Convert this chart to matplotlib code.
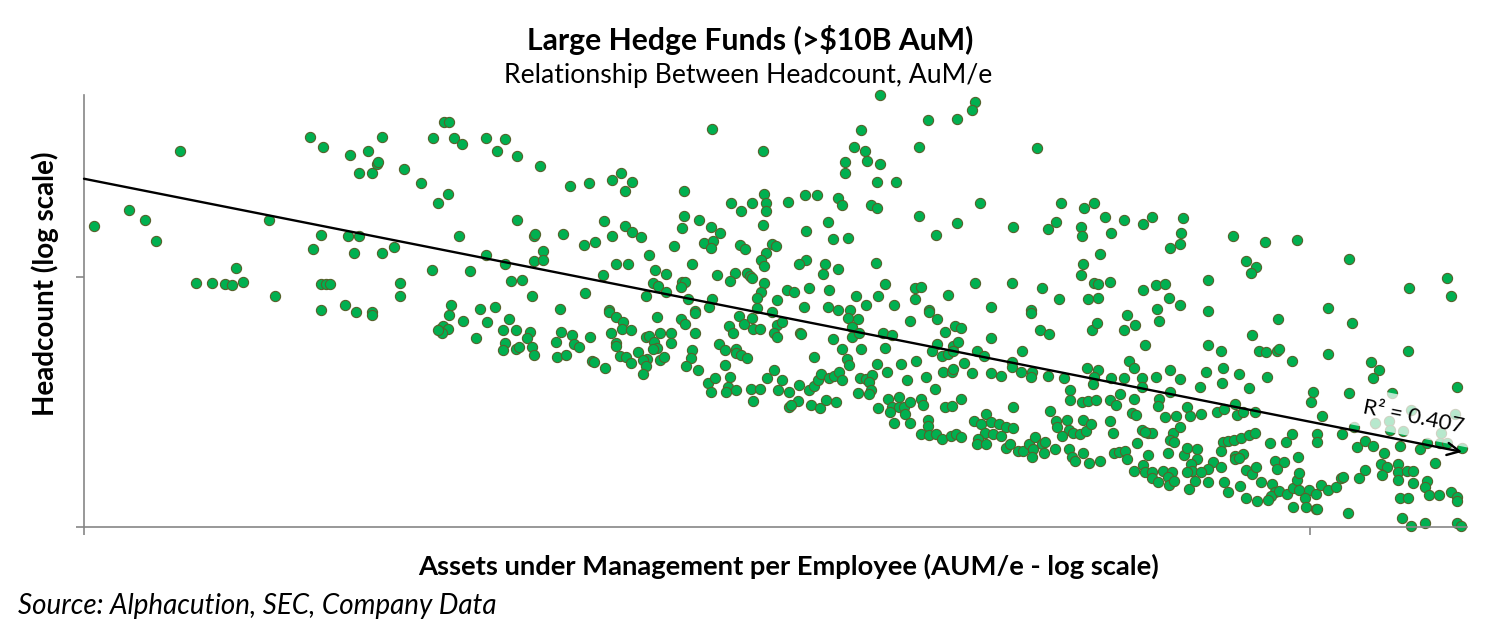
import numpy as np
import matplotlib
matplotlib.use("Agg")
import matplotlib.pyplot as plt
from matplotlib.ticker import FixedLocator, NullLocator

# (log10 AuM per employee, log10 headcount), grouped by area
upper_left = [
    (1.008, 3.205), (1.037, 3.269), (1.050, 3.229), (1.059, 3.145), (1.078, 3.505), (1.091, 2.977),
    (1.104, 2.977), (1.115, 2.972), (1.121, 2.968), (1.130, 2.980), (1.124, 3.037), (1.156, 2.925),
    (1.151, 3.229), (1.184, 3.561), (1.195, 3.521), (1.217, 3.489), (1.232, 3.505), (1.243, 3.561),
    (1.239, 3.453), (1.240, 3.461), (1.224, 3.417), (1.235, 3.417), (1.261, 3.433), (1.275, 3.377),
    (1.193, 3.168), (1.187, 3.113), (1.215, 3.165), (1.224, 3.165), (1.220, 3.097), (1.243, 3.097),
    (1.253, 3.121), (1.193, 2.973), (1.197, 2.973), (1.201, 2.973), (1.258, 2.977), (1.258, 2.925),
    (1.213, 2.889), (1.193, 2.868), (1.222, 2.861), (1.235, 2.861), (1.235, 2.848),
]
upper_mid = [
    (1.294, 3.621), (1.298, 3.621), (1.285, 3.557), (1.302, 3.557), (1.308, 3.532), (1.328, 3.557),
    (1.343, 3.553), (1.337, 3.505), (1.353, 3.485), (1.372, 3.445), (1.297, 3.333), (1.289, 3.297),
    (1.353, 3.229), (1.396, 3.365), (1.412, 3.377), (1.431, 3.389), (1.438, 3.417), (1.447, 3.381),
    (1.441, 3.345), (1.512, 3.593), (1.554, 3.505), (1.489, 3.345), (1.528, 3.297), (1.536, 3.265),
    (1.545, 3.297), (1.555, 3.331), (1.556, 3.297), (1.556, 3.265), (1.554, 3.209), (1.489, 3.245),
    (1.488, 3.197), (1.502, 3.229), (1.511, 3.201), (1.519, 3.177), (1.506, 3.137), (1.513, 3.145),
    (1.511, 3.117), (1.535, 3.129), (1.539, 3.113), (1.556, 3.097), (1.552, 3.069), (1.555, 3.044),
    (1.306, 3.165), (1.284, 3.029), (1.315, 3.025), (1.328, 3.089), (1.343, 3.053), (1.348, 2.985),
    (1.357, 2.989), (1.365, 2.925), (1.299, 2.889), (1.323, 2.872), (1.335, 2.879), (1.388, 2.872),
    (1.367, 3.165), (1.368, 3.172), (1.374, 3.103), (1.367, 3.065), (1.374, 3.069), (1.391, 3.173),
    (1.408, 3.128), (1.417, 3.141), (1.424, 3.225), (1.431, 3.165), (1.441, 3.205), (1.447, 3.181),
    (1.454, 3.161), (1.423, 3.008), (1.434, 3.053), (1.444, 3.053), (1.409, 2.937), (1.428, 2.868),
    (1.461, 3.089), (1.466, 3.029), (1.475, 3.013), (1.464, 2.977), (1.468, 2.965), (1.475, 2.941),
    (1.458, 2.925), (1.481, 3.125), (1.496, 3.053), (1.488, 2.981), (1.490, 2.981), (1.487, 2.961),
    (1.493, 2.913), (1.512, 2.913), (1.510, 2.880), (1.498, 2.864), (1.516, 3.009), (1.531, 3.017),
    (1.527, 2.985), (1.541, 3.017), (1.543, 3.005), (1.545, 2.997), (1.555, 2.977), (1.552, 2.941),
    (1.549, 2.917), (1.549, 2.875),
]
upper_right = [
    (1.649, 3.728), (1.727, 3.701), (1.724, 3.668), (1.688, 3.629), (1.712, 3.633), (1.634, 3.589),
    (1.628, 3.521), (1.637, 3.505), (1.681, 3.521), (1.777, 3.517), (1.621, 3.461), (1.639, 3.465),
    (1.649, 3.453), (1.621, 3.417), (1.647, 3.381), (1.662, 3.381), (1.588, 3.329), (1.598, 3.329),
    (1.574, 3.301), (1.615, 3.317), (1.618, 3.289), (1.642, 3.289), (1.647, 3.277), (1.731, 3.297),
    (1.681, 3.245), (1.712, 3.217), (1.695, 3.169), (1.758, 3.201), (1.797, 3.297), (1.816, 3.277),
    (1.824, 3.297), (1.833, 3.241), (1.793, 3.221), (1.786, 3.193), (1.813, 3.201), (1.814, 3.165),
    (1.838, 3.177), (1.829, 3.093), (1.815, 3.053), (1.813, 3.009), (1.824, 2.977), (1.827, 2.973),
    (1.837, 2.981), (1.819, 2.913), (1.827, 2.917), (1.607, 3.221), (1.589, 3.185), (1.611, 3.153),
    (1.623, 3.157), (1.561, 3.133), (1.564, 3.125), (1.589, 3.069), (1.583, 3.053), (1.604, 3.053),
    (1.615, 3.033), (1.603, 3.013), (1.646, 3.057), (1.653, 2.973), (1.591, 2.957), (1.573, 2.949),
    (1.579, 2.941), (1.608, 2.949), (1.565, 2.909), (1.630, 2.925), (1.648, 2.925), (1.678, 2.957),
    (1.683, 2.961), (1.678, 2.913), (1.705, 2.929), (1.727, 2.977), (1.757, 2.977), (1.781, 2.957),
    (1.795, 2.913), (1.587, 2.881), (1.607, 2.881), (1.615, 2.868), (1.638, 2.889), (1.661, 2.889),
    (1.740, 2.881), (1.689, 2.868), (1.772, 2.868), (1.625, 2.868),
]
far_right_upper = [
    (1.848, 3.229), (1.864, 3.213), (1.871, 3.241), (1.896, 3.237), (1.895, 3.177), (1.894, 3.133),
    (1.886, 3.117), (1.937, 3.165), (1.963, 3.141), (1.989, 3.149), (1.948, 3.065), (1.956, 3.041),
    (1.952, 3.017), (2.032, 3.073), (1.864, 2.949), (1.874, 2.969), (1.882, 2.972), (1.917, 2.989),
    (1.885, 2.917), (1.894, 2.889), (1.875, 2.873), (1.917, 2.864), (2.015, 2.877), (2.081, 2.957),
    (2.112, 2.997), (2.115, 2.925),
]
lower_mid = [
    (1.298, 2.848), (1.290, 2.792), (1.293, 2.805), (1.297, 2.792), (1.292, 2.775), (1.289, 2.788),
    (1.309, 2.825), (1.329, 2.821), (1.320, 2.757), (1.347, 2.833), (1.342, 2.788), (1.352, 2.788),
    (1.364, 2.781), (1.361, 2.757), (1.343, 2.737), (1.342, 2.709), (1.352, 2.713), (1.355, 2.720),
    (1.365, 2.721), (1.367, 2.688), (1.389, 2.781), (1.385, 2.741), (1.398, 2.769), (1.400, 2.733),
    (1.404, 2.721), (1.386, 2.681), (1.393, 2.689), (1.413, 2.761), (1.414, 2.665), (1.416, 2.661),
    (1.425, 2.637), (1.428, 2.861), (1.434, 2.841), (1.440, 2.821), (1.439, 2.793), (1.446, 2.789),
    (1.430, 2.777), (1.434, 2.735), (1.434, 2.725), (1.437, 2.685), (1.442, 2.681), (1.446, 2.657),
    (1.452, 2.701), (1.458, 2.761), (1.461, 2.765), (1.465, 2.741), (1.470, 2.777), (1.479, 2.775),
    (1.479, 2.737), (1.467, 2.717), (1.464, 2.712), (1.459, 2.673), (1.456, 2.669), (1.458, 2.645),
    (1.456, 2.613), (1.470, 2.668), (1.473, 2.681), (1.467, 2.841), (1.487, 2.833), (1.490, 2.813),
    (1.498, 2.857), (1.498, 2.777), (1.496, 2.709), (1.495, 2.675), (1.491, 2.645), (1.501, 2.629),
    (1.518, 2.733), (1.523, 2.709), (1.523, 2.649), (1.532, 2.713), (1.532, 2.697), (1.536, 2.689),
    (1.541, 2.677), (1.526, 2.805), (1.529, 2.777), (1.534, 2.845), (1.538, 2.813), (1.545, 2.835),
    (1.546, 2.793), (1.551, 2.793), (1.561, 2.861), (1.509, 2.577), (1.515, 2.597), (1.511, 2.540),
    (1.527, 2.601), (1.525, 2.561), (1.524, 2.540), (1.532, 2.549), (1.544, 2.553), (1.551, 2.553),
    (1.546, 2.505), (1.557, 2.597),
]
lower_right = [
    (1.623, 2.837), (1.631, 2.833), (1.565, 2.809), (1.569, 2.821), (1.563, 2.777), (1.565, 2.761),
    (1.584, 2.777), (1.585, 2.773), (1.611, 2.753), (1.618, 2.713), (1.626, 2.801), (1.626, 2.761),
    (1.632, 2.777), (1.634, 2.713), (1.595, 2.681), (1.622, 2.673), (1.624, 2.649), (1.652, 2.777),
    (1.659, 2.769), (1.653, 2.717), (1.674, 2.825), (1.689, 2.861), (1.696, 2.833), (1.702, 2.781),
    (1.710, 2.805), (1.715, 2.797), (1.696, 2.733), (1.692, 2.705), (1.700, 2.685), (1.705, 2.693),
    (1.709, 2.725), (1.713, 2.741), (1.709, 2.705), (1.740, 2.757), (1.728, 2.705), (1.734, 2.685),
    (1.772, 2.857), (1.780, 2.789), (1.787, 2.773), (1.765, 2.705), (1.757, 2.661), (1.757, 2.641),
    (1.764, 2.621), (1.773, 2.621), (1.772, 2.601), (1.786, 2.605), (1.799, 2.597), (1.822, 2.789),
    (1.826, 2.817), (1.818, 2.637), (1.827, 2.629), (1.824, 2.601), (1.823, 2.573), (1.804, 2.549),
    (1.804, 2.509), (1.814, 2.501), (1.819, 2.505), (1.825, 2.509), (1.563, 2.629), (1.569, 2.589),
    (1.566, 2.549), (1.575, 2.541), (1.583, 2.569), (1.591, 2.549), (1.595, 2.565), (1.599, 2.589),
    (1.601, 2.613), (1.608, 2.597), (1.612, 2.605), (1.616, 2.621), (1.618, 2.589), (1.582, 2.505),
    (1.575, 2.481), (1.577, 2.488), (1.593, 2.489), (1.600, 2.477), (1.605, 2.509), (1.613, 2.501),
    (1.647, 2.653), (1.655, 2.621), (1.666, 2.653), (1.679, 2.665), (1.633, 2.597), (1.638, 2.593),
    (1.643, 2.609), (1.640, 2.581), (1.642, 2.549), (1.631, 2.537), (1.640, 2.533), (1.671, 2.589),
    (1.687, 2.601), (1.694, 2.553), (1.701, 2.621), (1.708, 2.621), (1.709, 2.633), (1.718, 2.657),
    (1.724, 2.617), (1.740, 2.617), (1.748, 2.605), (1.648, 2.477), (1.656, 2.513), (1.665, 2.521),
    (1.659, 2.481), (1.665, 2.481), (1.669, 2.481), (1.657, 2.461), (1.670, 2.452), (1.661, 2.417),
    (1.674, 2.417), (1.674, 2.500), (1.683, 2.513), (1.684, 2.489), (1.702, 2.481), (1.708, 2.485),
    (1.715, 2.513), (1.688, 2.429), (1.688, 2.405), (1.683, 2.373), (1.689, 2.369), (1.695, 2.373),
    (1.700, 2.353), (1.707, 2.365), (1.711, 2.373), (1.715, 2.361), (1.726, 2.425), (1.736, 2.453),
    (1.732, 2.413), (1.740, 2.421), (1.746, 2.413), (1.752, 2.401), (1.758, 2.397), (1.735, 2.377),
    (1.741, 2.373), (1.748, 2.365), (1.729, 2.353), (1.728, 2.333), (1.736, 2.333), (1.758, 2.481),
    (1.752, 2.317), (1.755, 2.333), (1.762, 2.305), (1.766, 2.305), (1.771, 2.333), (1.776, 2.361),
    (1.774, 2.313), (1.773, 2.281), (1.781, 2.333), (1.784, 2.341), (1.783, 2.297), (1.792, 2.313),
    (1.788, 2.465), (1.793, 2.425), (1.794, 2.401), (1.802, 2.429), (1.803, 2.389), (1.798, 2.365),
    (1.807, 2.377), (1.812, 2.373), (1.817, 2.385), (1.815, 2.429), (1.821, 2.413), (1.803, 2.313),
    (1.806, 2.281), (1.808, 2.265), (1.815, 2.297), (1.820, 2.257), (1.829, 2.265), (1.837, 2.509),
    (1.837, 2.425), (1.839, 2.377), (1.840, 2.297), (1.838, 2.597),
]
bottom_right = [
    (1.851, 2.849), (1.857, 2.809), (1.848, 2.789), (1.877, 2.825), (1.974, 2.833), (2.034, 2.817),
    (1.865, 2.729), (1.917, 2.729), (1.927, 2.705), (1.953, 2.769), (1.958, 2.705), (1.964, 2.701),
    (1.973, 2.705), (1.975, 2.713), (2.015, 2.693), (1.985, 2.665), (2.080, 2.705), (2.050, 2.661),
    (2.056, 2.629), (2.051, 2.597), (1.852, 2.665), (1.856, 2.637), (1.848, 2.597), (1.863, 2.597),
    (1.874, 2.601), (1.886, 2.629), (1.894, 2.593), (1.915, 2.621), (1.929, 2.637), (1.928, 2.577),
    (1.942, 2.613), (1.965, 2.601), (1.950, 2.557), (1.910, 2.561), (1.845, 2.533), (1.863, 2.561),
    (1.856, 2.513), (1.842, 2.488), (1.877, 2.513), (1.876, 2.485), (1.886, 2.541), (1.900, 2.480),
    (1.882, 2.441), (1.891, 2.445), (1.902, 2.445), (1.911, 2.453), (1.924, 2.461), (1.930, 2.472),
    (1.939, 2.491), (1.940, 2.449), (1.945, 2.461), (1.955, 2.461), (2.002, 2.541), (2.001, 2.501),
    (2.032, 2.537), (2.010, 2.445), (2.120, 2.561), (2.036, 2.401), (1.855, 2.457), (1.858, 2.449),
    (1.863, 2.389), (1.868, 2.377), (1.871, 2.377), (1.865, 2.381), (1.888, 2.377), (1.894, 2.401),
    (1.886, 2.349), (1.889, 2.341), (1.859, 2.337), (1.844, 2.301), (1.849, 2.305), (1.851, 2.273),
    (1.868, 2.289), (1.884, 2.297), (1.897, 2.289), (1.900, 2.317), (1.908, 2.313), (1.908, 2.273),
    (1.903, 2.251), (1.904, 2.225), (1.900, 2.221), (1.921, 2.261), (1.917, 2.233), (1.927, 2.241),
    (1.929, 2.341), (1.933, 2.345), (1.938, 2.349), (1.944, 2.355), (1.950, 2.369), (1.955, 2.377),
    (1.939, 2.285), (1.939, 2.273), (1.945, 2.293), (1.967, 2.337), (1.980, 2.341), (1.985, 2.373),
    (1.990, 2.281), (2.006, 2.373), (2.006, 2.341), (1.971, 2.265), (1.979, 2.261), (1.973, 2.233),
    (2.026, 2.373), (2.038, 2.321), (2.045, 2.345), (2.051, 2.325), (2.060, 2.297), (2.073, 2.325),
    (2.090, 2.313), (2.095, 2.337), (2.102, 2.257), (2.106, 2.337), (2.112, 2.337), (2.124, 2.317),
    (2.067, 2.537), (2.082, 2.468), (2.118, 2.453), (2.064, 2.425), (2.053, 2.417), (2.065, 2.389),
    (2.076, 2.385), (2.107, 2.377), (1.856, 2.225), (1.864, 2.248), (1.865, 2.221), (1.871, 2.221),
    (1.871, 2.195), (1.876, 2.181), (1.880, 2.225), (1.887, 2.221), (1.884, 2.201), (1.885, 2.168),
    (1.889, 2.185), (1.901, 2.153), (1.906, 2.185), (1.917, 2.181), (1.911, 2.221), (1.930, 2.181),
    (1.933, 2.141), (1.943, 2.165), (1.948, 2.117), (1.948, 2.229), (1.953, 2.211), (1.956, 2.241),
    (1.960, 2.181), (1.969, 2.172), (1.971, 2.141), (1.968, 2.125), (1.966, 2.108), (1.957, 2.105),
    (1.975, 2.145), (1.981, 2.131), (1.986, 2.155), (1.989, 2.189), (1.991, 2.215), (1.991, 2.148),
    (1.999, 2.148), (1.996, 2.117), (1.986, 2.081), (1.997, 2.081), (2.005, 2.072), (2.006, 2.072),
    (2.005, 2.132), (2.009, 2.168), (2.015, 2.148), (2.021, 2.161), (2.025, 2.197), (2.027, 2.201),
    (2.031, 2.057), (2.040, 2.197), (2.045, 2.228), (2.058, 2.251), (2.063, 2.241), (2.059, 2.209),
    (2.072, 2.251), (2.072, 2.221), (2.079, 2.225), (2.084, 2.225), (2.072, 2.189), (2.084, 2.177),
    (2.095, 2.185), (2.094, 2.161), (2.097, 2.129), (2.105, 2.129), (2.115, 2.141), (2.120, 2.121),
    (2.120, 2.104), (2.073, 2.117), (2.080, 2.117), (2.075, 2.035), (2.082, 2.005), (2.094, 2.017),
    (2.120, 2.017), (2.123, 2.005), (1.927, 2.305), (1.942, 2.277),
]

# power-law trend: log10(headcount) = a + b * log10(AuM/e)
trend_intercept = 4.365
trend_slope = -0.972
trend_range = (1.0, 2.124)
r_squared = 0.407


def main():
    plt.rcParams['font.family'] = ['Lato', 'DejaVu Sans']

    pts = np.array(upper_left + upper_mid + upper_right + far_right_upper
                   + lower_mid + lower_right + bottom_right)
    aum_e = 10 ** pts[:, 0]
    headcount = 10 ** pts[:, 1]

    fig = plt.figure(figsize=(15, 6.38), dpi=100)
    ax = fig.add_axes([84 / 1500, 111 / 638, 1383 / 1500, 432 / 638])
    ax.set_xscale('log')
    ax.set_yscale('log')
    ax.set_xlim(10 ** 1.0, 10 ** 2.128)
    ax.set_ylim(10 ** 2.0, 10 ** 3.728)

    ax.scatter(aum_e, headcount, s=54, c='#00B050', edgecolors='#56622C',
               linewidths=0.8, zorder=2, clip_on=False)

    # trendline with arrow head
    tx = 10 ** np.array(trend_range)
    ty = 10 ** (trend_intercept + trend_slope * np.array(trend_range))
    ax.annotate('', xy=(tx[1], ty[1]), xytext=(tx[0], ty[0]),
                arrowprops=dict(arrowstyle='->', color='black', lw=1.7,
                                mutation_scale=22, shrinkA=0, shrinkB=0),
                zorder=4)

    p0 = ax.transData.transform((tx[0], ty[0]))
    p1 = ax.transData.transform((tx[1], ty[1]))
    angle = np.degrees(np.arctan2(p1[1] - p0[1], p1[0] - p0[0]))
    ax.text(10 ** 2.084, 10 ** 2.44, f'R² = {r_squared}', rotation=angle,
            rotation_mode='anchor', ha='center', va='center', fontsize=16,
            bbox=dict(boxstyle='square,pad=0.42', fc='white', ec='none', alpha=0.72),
            zorder=3)

    for side in ['top', 'right']:
        ax.spines[side].set_visible(False)
    for side in ['left', 'bottom']:
        ax.spines[side].set_color('#868686')
        ax.spines[side].set_linewidth(1.2)
    ax.xaxis.set_major_locator(FixedLocator([10, 100]))
    ax.yaxis.set_major_locator(FixedLocator([100, 1000]))
    ax.xaxis.set_minor_locator(NullLocator())
    ax.yaxis.set_minor_locator(NullLocator())
    ax.tick_params(which='major', direction='out', length=6, width=1.2,
                   color='#868686', labelbottom=False, labelleft=False)

    fig.text(0.5, 0.937, 'Large Hedge Funds (>\\$10B AuM)', ha='center', va='center',
             fontsize=21.7, fontweight='bold')
    fig.text(0.499, 0.882, 'Relationship Between Headcount, AuM/e', ha='center',
             va='center', fontsize=19.2)
    fig.text(0.526, 0.113, 'Assets under Management per Employee (AUM/e - log scale)',
             ha='center', va='center', fontsize=19.7, fontweight='bold')
    fig.text(0.03, 0.556, 'Headcount (log scale)', ha='center', va='center',
             rotation=90, fontsize=20, fontweight='bold')
    fig.text(0.012, 0.05, 'Source: Alphacution, SEC, Company Data', ha='left',
             va='center', fontsize=20, style='italic')

    fig.savefig('out.png', dpi=100)


if __name__ == '__main__':
    main()
